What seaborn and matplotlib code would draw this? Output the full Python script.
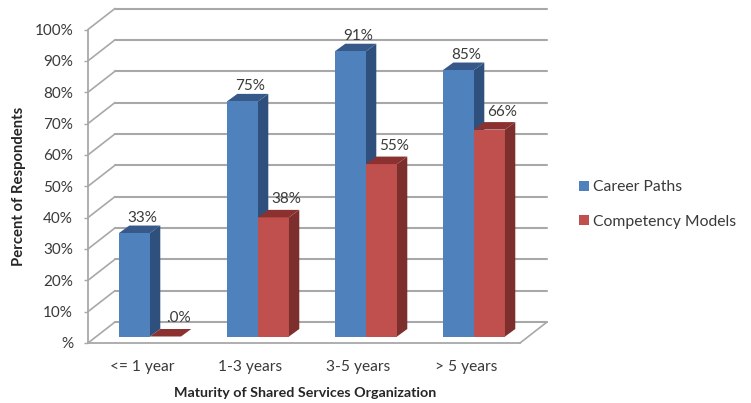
import matplotlib
matplotlib.use("Agg")
import matplotlib.pyplot as plt
from matplotlib.patches import Polygon
import pandas as pd
import seaborn as sns

categories = ["<= 1 year", "1-3 years", "3-5 years", "> 5 years"]
career_paths = [33, 75, 91, 85]
competency_models = [0, 38, 55, 66]
point_labels = [["33%", "75%", "91%", "85%"], [".0%", "38%", "55%", "66%"]]
y_ticks = list(range(0, 101, 10))
y_labels = ["%"] + [f"{v}%" for v in y_ticks[1:]]

sns.set_theme(style="white")
plt.rcParams["font.family"] = ["Lato", "DejaVu Sans"]

W, H = 751, 403
TXT = "#3a3a3a"
GRID = "#a8a8a8"
front = ["#4f81bd", "#c0504d"]
side = ["#2f4f7d", "#7c2f2d"]
top = ["#36598a", "#8b3230"]

fig = plt.figure(figsize=(W / 100, H / 100), dpi=100, facecolor="white")
L, R, T, B = 88, 520, 29.5, 343
ax = fig.add_axes([L / W, 1 - B / H, (R - L) / W, (B - T) / H])

df = pd.DataFrame({
    "cat": categories * 2,
    "val": career_paths + competency_models,
    "series": ["Career Paths"] * 4 + ["Competency Models"] * 4,
})
sns.barplot(data=df, x="cat", y="val", hue="series", palette=front, width=0.574,
            gap=0, saturation=1, ax=ax, zorder=3, linewidth=0, errorbar=None)
ax.set_xlim(-0.5, 3.5)
ax.set_ylim(0, 100)

px_x = 1 / 108            # category units per pixel
px_y = 100 / (B - T)      # percent per pixel
shift_x, shift_y = 8 * px_x, 6.5 * px_y
dx, dy = 10.3 * px_x, 7.5 * px_y
wall_x, wall_y = 27 * px_x, 21 * px_y

# back wall, floor and left-wall diagonals
x0, x1 = ax.get_xlim()
for v in y_ticks:
    ax.plot([x0 + wall_x, x1 + wall_x], [v + wall_y] * 2, color=GRID, lw=1.5,
            clip_on=False, zorder=1)
    ax.plot([x0, x0 + wall_x], [v, v + wall_y], color=GRID, lw=1.2,
            clip_on=False, zorder=1)
ax.plot([x1, x1 + wall_x], [0, wall_y], color=GRID, lw=1.2, clip_on=False, zorder=1)

# 3-D faces built on the bars seaborn drew
offs = [(7.5, 15), (12.5, 18)]
for s, cont in enumerate(ax.containers):
    for i, bar in enumerate(cont.patches):
        bar.set_x(bar.get_x() + shift_x)
        bar.set_y(shift_y)
        bar.set_clip_on(False)
        xa, xb = bar.get_x(), bar.get_x() + bar.get_width()
        y0, y1 = shift_y, shift_y + bar.get_height()
        ax.add_patch(Polygon([(xb, y0), (xb + dx, y0 + dy), (xb + dx, y1 + dy), (xb, y1)],
                             fc=side[s], ec="none", zorder=2.5 if s == 0 else 3.2, clip_on=False))
        ax.add_patch(Polygon([(xa, y1), (xb, y1), (xb + dx, y1 + dy), (xa + dx, y1 + dy)],
                             fc=top[s], ec="none", zorder=2.5 if s == 0 else 3.2, clip_on=False))
        ax.annotate(point_labels[s][i], ((xa + xb) / 2, y1),
                    xytext=(offs[s][0] * 0.72, offs[s][1] * 0.72), textcoords="offset points",
                    ha="center", va="center", fontsize=11, color=TXT, zorder=6,
                    annotation_clip=False)

for name in ("top", "right"):
    ax.spines[name].set_visible(False)
for name in ("left", "bottom"):
    ax.spines[name].set_color(GRID)
    ax.spines[name].set_linewidth(1.3)
    ax.spines[name].set_zorder(1)

ax.set_yticks(y_ticks, y_labels)
ax.set_xticks(range(4), categories)
ax.set_xticks([-0.5, 0.5, 1.5, 2.5, 3.5], minor=True)
ax.tick_params(axis="x", which="major", length=0, pad=12, labelsize=11.2, labelcolor=TXT)
ax.tick_params(axis="x", which="minor", length=4, width=1, color=GRID, direction="out")
ax.tick_params(axis="y", length=3, width=1, color=GRID, pad=7.7, labelsize=11, labelcolor=TXT, left=True)

ax.set_xlabel("")
ax.set_ylabel("")
fig.text(305 / W, 1 - 393 / H, "Maturity of Shared Services Organization", ha="center", va="center",
         fontsize=10.3, fontweight="bold", color="#262626")
fig.text(19.5 / W, 1 - 186 / H, "Percent of Respondents", ha="center", va="center", rotation=90,
         fontsize=10.7, fontweight="bold", color="#262626")

sns.move_legend(ax, "center left", bbox_to_anchor=(579 / W, 1 - 204.5 / H),
                bbox_transform=fig.transFigure, frameon=False, title=None,
                fontsize=11.3, handlelength=0.66, handleheight=0.66, handletextpad=0.25,
                labelspacing=1.3, labelcolor=TXT, borderpad=0, borderaxespad=0)

fig.savefig("out.png", dpi=100, facecolor="white")
